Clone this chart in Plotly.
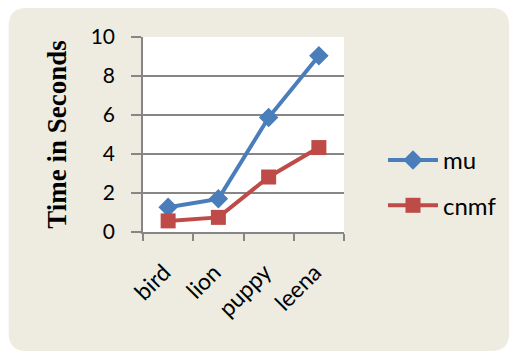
import plotly.graph_objects as go

categories = ["bird", "lion", "puppy", "leena"]
mu_times = [1.27, 1.7, 5.87, 9.04]
cnmf_times = [0.57, 0.75, 2.82, 4.33]
y_ticks = [0, 2, 4, 6, 8, 10]

W, H = 513, 353
L, R, T, B = 143, 168, 37, 121
pw, ph = W - L - R, H - T - B


def px_x(p):
    return (p - L) / pw


def px_y(p):
    return (H - B - p) / ph


fig = go.Figure()
fig.add_trace(go.Scatter(
    x=categories, y=mu_times, name="mu", mode="lines+markers",
    line=dict(color="#4A7EBB", width=4),
    marker=dict(symbol="diamond", size=15, color="#4A7EBB"),
    legendgroup="a",
))
fig.add_trace(go.Scatter(
    x=categories, y=cnmf_times, name="cnmf", mode="lines+markers",
    line=dict(color="#BE4B48", width=4),
    marker=dict(symbol="square", size=15, color="#BE4B48"),
    legendgroup="b",
))

# rounded beige panel behind the chart
RAD = 18


def panel_path(a, b, c, d):
    pts = [
        f"M {px_x(a + RAD)},{px_y(b)}",
        f"L {px_x(c - RAD)},{px_y(b)}",
        f"Q {px_x(c)},{px_y(b)} {px_x(c)},{px_y(b + RAD)}",
        f"L {px_x(c)},{px_y(d - RAD)}",
        f"Q {px_x(c)},{px_y(d)} {px_x(c - RAD)},{px_y(d)}",
        f"L {px_x(a + RAD)},{px_y(d)}",
        f"Q {px_x(a)},{px_y(d)} {px_x(a)},{px_y(d - RAD)}",
        f"L {px_x(a)},{px_y(b + RAD)}",
        f"Q {px_x(a)},{px_y(b)} {px_x(a + RAD)},{px_y(b)} Z",
    ]
    return " ".join(pts)


fig.add_shape(type="path", path=panel_path(8, 8, 511, 351), xref="paper", yref="paper",
              fillcolor="#EEEBE0", line=dict(width=0), layer="below")
fig.add_shape(type="rect", x0=0, x1=1, y0=0, y1=1, xref="paper", yref="paper",
              fillcolor="white", line=dict(width=0), layer="below")

fig.update_layout(
    width=W, height=H,
    margin=dict(l=L, r=R, t=T, b=B),
    paper_bgcolor="white", plot_bgcolor="white",
    font=dict(family="Lato", color="black"),
    showlegend=True,
    legend=dict(x=px_x(383), y=px_y(138), xanchor="left", yanchor="top",
                bgcolor="rgba(0,0,0,0)", font=dict(size=24, family="Lato"),
                tracegroupgap=11, traceorder="grouped", itemwidth=50),
    xaxis=dict(
        type="category", range=[-0.5, 3.5],
        showline=True, linecolor="#868686", linewidth=1.5,
        ticks="outside", tickson="boundaries", ticklen=7, tickcolor="#868686",
        tickwidth=1.5, tickangle=-45, tickfont=dict(size=23, family="Lato"),
        ticksuffix="\u00a0", ticklabelstandoff=12,
        showgrid=False, zeroline=False,
    ),
    yaxis=dict(
        range=[0, 10], tickvals=y_ticks,
        showline=True, linecolor="#868686", linewidth=1.5,
        ticks="outside", ticklen=10, tickcolor="#868686", tickwidth=1.5,
        ticklabelstandoff=12,
        showgrid=True, gridcolor="#868686", gridwidth=1.5, zeroline=False,
        tickfont=dict(size=21, family="Lato"),
        title=dict(text="<b>Time in Seconds</b>", standoff=16,
                   font=dict(size=27, family="Liberation Serif")),
    ),
)

fig.write_html("out.html")
